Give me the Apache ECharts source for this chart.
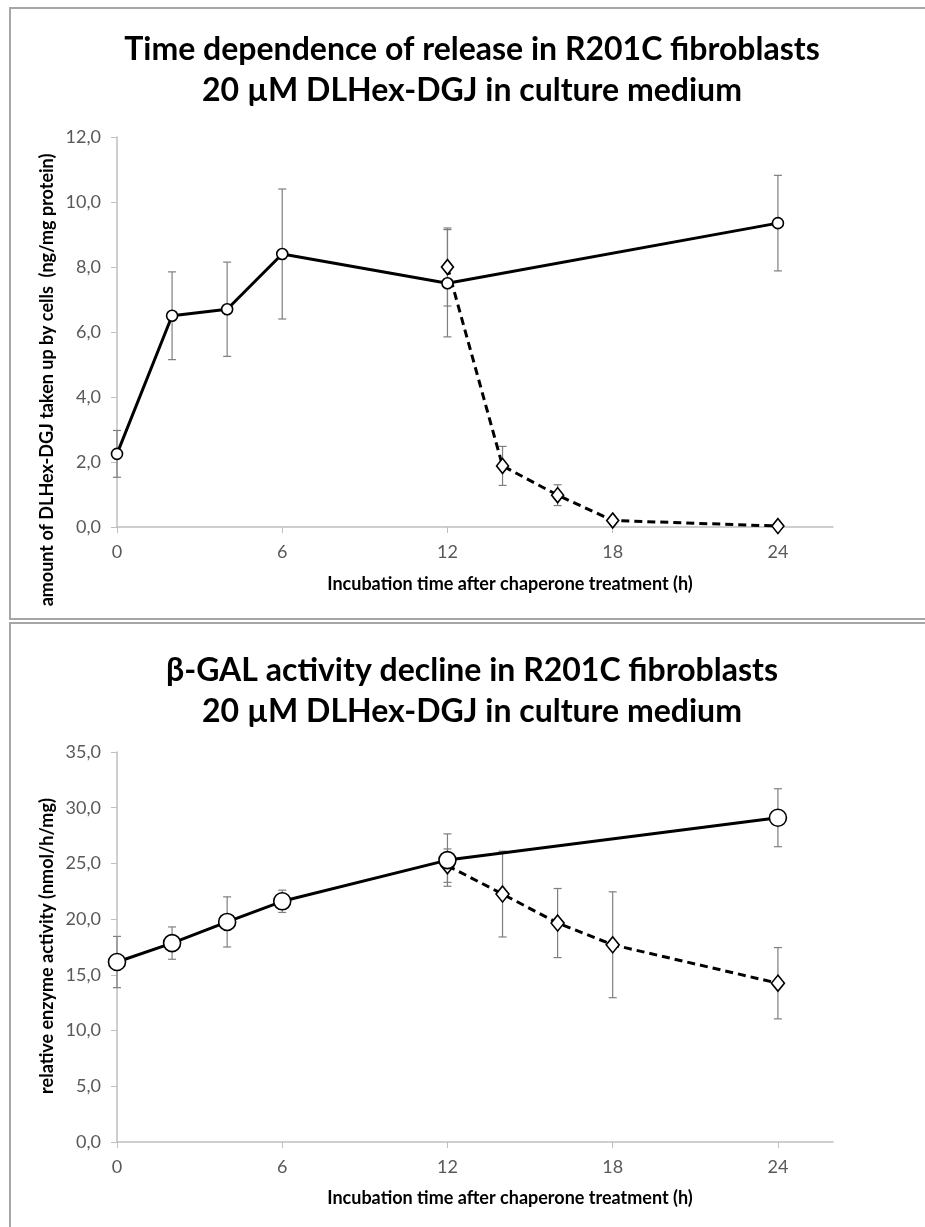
<!DOCTYPE html>
<html>
<head>
<meta charset="utf-8">
<script src="https://cdn.jsdelivr.net/npm/echarts@6/dist/echarts.min.js"></script>
<style>
  html, body { margin: 0; padding: 0; background: #fff; }
  #chart { width: 925px; height: 1227px; }
</style>
</head>
<body>
<div id="chart"></div>
<script>
// x ticks (hours)
const hourTicks = [0, 6, 12, 18, 24];

// top panel: chaperone taken up by cells
const uptakeHours = [0, 2, 4, 6, 12, 24];
const uptakeMean = [2.25, 6.5, 6.7, 8.4, 7.5, 9.35];
const uptakeSd = [0.72, 1.35, 1.45, 2.0, 1.65, 1.47];

const releaseHours = [12, 14, 16, 18, 24];
const releaseMean = [8.0, 1.88, 0.98, 0.2, 0.03];
const releaseSd = [1.2, 0.6, 0.32, 0, 0];

// bottom panel: beta-GAL activity
const activityHours = [0, 2, 4, 6, 12, 24];
const activityMean = [16.15, 17.85, 19.75, 21.6, 25.3, 29.1];
const activitySd = [2.3, 1.45, 2.25, 1.0, 2.35, 2.6];

const declineHours = [12, 14, 16, 18, 24];
const declineMean = [24.8, 22.25, 19.65, 17.7, 14.25];
const declineSd = [1.5, 3.85, 3.1, 4.75, 3.2];

const FONT = 'Lato';
const chart = echarts.init(document.getElementById('chart'));

const pairs = (xs, ys) => xs.map((x, i) => [x, ys[i]]);
const errData = (xs, m, sd) => xs.map((x, i) => [x, m[i] - sd[i], m[i] + sd[i]]);
const comma = v => v.toFixed(1).replace('.', ',');

function renderErr(params, api) {
    const x = api.value(0);
    const lo = api.coord([x, api.value(1)]);
    const hi = api.coord([x, api.value(2)]);
    const style = { stroke: '#7f7f7f', lineWidth: 1.2 };
    return {
        type: 'group',
        children: [
            { type: 'line', shape: { x1: lo[0], y1: lo[1], x2: hi[0], y2: hi[1] }, style },
            { type: 'line', shape: { x1: hi[0] - 4, y1: hi[1], x2: hi[0] + 4, y2: hi[1] }, style },
            { type: 'line', shape: { x1: lo[0] - 4, y1: lo[1], x2: lo[0] + 4, y2: lo[1] }, style }
        ]
    };
}

function xAxisOpt(gridIndex) {
    return {
        type: 'value', gridIndex, min: 0, max: 26,
        axisLine: { show: true, lineStyle: { color: '#bfbfbf', width: 1.5 } },
        axisTick: { show: true, length: 6, customValues: hourTicks, lineStyle: { color: '#bfbfbf' } },
        axisLabel: { customValues: hourTicks, margin: 16, color: '#595959', fontSize: 18, fontFamily: FONT },
        splitLine: { show: false }
    };
}

function yAxisOpt(gridIndex, max, interval) {
    return {
        type: 'value', gridIndex, min: 0, max, interval,
        axisLine: { show: true, lineStyle: { color: '#bfbfbf', width: 1.5 } },
        axisTick: { show: true, length: 6, lineStyle: { color: '#bfbfbf' } },
        axisLabel: { formatter: comma, margin: 16, color: '#595959', fontSize: 18, fontFamily: FONT },
        splitLine: { show: false }
    };
}

function lineSeries(xi, data, symbol, size, dashed) {
    return {
        type: 'line', xAxisIndex: xi, yAxisIndex: xi, data,
        symbol, symbolSize: size, showSymbol: true, z: 3,
        lineStyle: { color: '#000', width: 3, type: dashed ? [8, 5] : 'solid' },
        itemStyle: { color: '#fff', borderColor: '#000', borderWidth: 1.6 },
        emphasis: { disabled: true },
        animation: false
    };
}

function errSeries(xi, data) {
    return {
        type: 'custom', xAxisIndex: xi, yAxisIndex: xi, data,
        renderItem: renderErr, z: 2, silent: true, animation: false
    };
}

const titleStyle = { fontFamily: FONT, fontWeight: 'bold', fontSize: 32, color: '#000', lineHeight: 41 };
const axisTitle = { fontFamily: FONT, fontWeight: 'bold', fontSize: 18, fill: '#000' };

chart.setOption({
    animation: false,
    title: [
        { text: 'Time dependence of release in R201C fibroblasts\n20 µM DLHex-DGJ in culture medium',
          left: 467, top: 24, textAlign: 'center', textStyle: titleStyle },
        { text: 'β-GAL activity decline in R201C fibroblasts\n20 µM DLHex-DGJ in culture medium',
          left: 467, top: 645, textAlign: 'center', textStyle: titleStyle }
    ],
    grid: [
        { left: 117, top: 137, right: 92, height: 390 },
        { left: 117, top: 752, right: 92, height: 390 }
    ],
    xAxis: [xAxisOpt(0), xAxisOpt(1)],
    yAxis: [yAxisOpt(0, 12, 2), yAxisOpt(1, 35, 5)],
    graphic: [
        { type: 'rect', shape: { x: 10, y: 8, width: 940, height: 611 },
          style: { fill: 'none', stroke: '#a6a6a6', lineWidth: 2 }, z: -1 },
        { type: 'rect', shape: { x: 10, y: 623, width: 940, height: 640 },
          style: { fill: 'none', stroke: '#a6a6a6', lineWidth: 2 }, z: -1 },
        { type: 'text', x: 47, y: 380, rotation: Math.PI / 2,
          style: Object.assign({ text: 'amount of DLHex-DGJ taken up by cells  (ng/mg protein)',
          align: 'center', verticalAlign: 'middle' }, axisTitle) },
        { type: 'text', x: 47, y: 946, rotation: Math.PI / 2,
          style: Object.assign({ text: 'relative enzyme activity (nmol/h/mg)',
          align: 'center', verticalAlign: 'middle' }, axisTitle) },
        { type: 'text', x: 510, y: 584,
          style: Object.assign({ text: 'Incubation time after chaperone treatment (h)',
          align: 'center', verticalAlign: 'middle' }, axisTitle) },
        { type: 'text', x: 510, y: 1198,
          style: Object.assign({ text: 'Incubation time after chaperone treatment (h)',
          align: 'center', verticalAlign: 'middle' }, axisTitle) }
    ],
    series: [
        errSeries(0, errData(uptakeHours, uptakeMean, uptakeSd)),
        errSeries(0, errData(releaseHours, releaseMean, releaseSd)),
        lineSeries(0, pairs(releaseHours, releaseMean), 'diamond', [12, 15], true),
        lineSeries(0, pairs(uptakeHours, uptakeMean), 'circle', 11, false),
        errSeries(1, errData(activityHours, activityMean, activitySd)),
        errSeries(1, errData(declineHours, declineMean, declineSd)),
        lineSeries(1, pairs(declineHours, declineMean), 'diamond', [13, 16], true),
        lineSeries(1, pairs(activityHours, activityMean), 'circle', 17, false)
    ]
});
</script>
</body>
</html>
